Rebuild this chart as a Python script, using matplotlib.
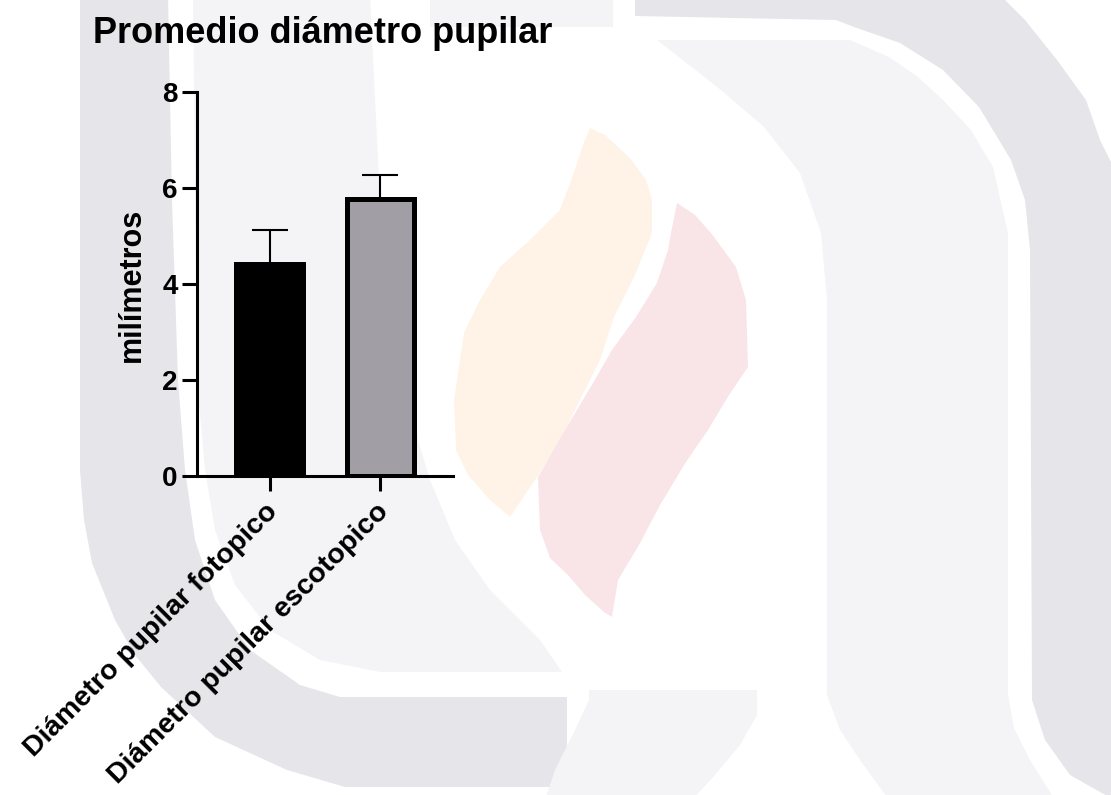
import matplotlib
matplotlib.use("Agg")
import matplotlib.pyplot as plt
from matplotlib.patches import Polygon
from matplotlib.transforms import ScaledTranslation

# Pupil diameter means (mm) with upper SD bars
categories = ["Diámetro pupilar fotopico", "Diámetro pupilar escotopico"]
means = [4.42, 5.78]
errors_up = [0.70, 0.49]
bar_colors = ["#000000", "#a19fa5"]
y_ticks = [0, 2, 4, 6, 8]

W, H = 1111, 795

plt.rcParams["font.family"] = ["Liberation Sans", "DejaVu Sans"]
plt.rcParams["font.weight"] = "bold"


def draw_watermark(fig):
    """Faint institutional logo behind the plot (pixel coordinates)."""
    bg = fig.add_axes([0, 0, 1, 1], zorder=-10)
    bg.set_xlim(0, W)
    bg.set_ylim(H, 0)
    bg.axis("off")

    dark = "#e6e5ea"
    light = "#f4f4f7"
    orange = "#fef3e6"
    pink = "#f9e5e7"

    shapes = [
        # left arch, inner light part
        (light, [(193, -5), (370, -5), (380, 200), (400, 350), (418, 440),
                 (430, 480), (455, 540), (490, 590), (540, 640), (562, 672),
                 (380, 672), (320, 660), (270, 630), (235, 585), (215, 530),
                 (205, 470), (197, 380)]),
        # left arch, outer dark band
        (dark, [(80, -5), (80, 470), (84, 520), (92, 563), (115, 620),
                (135, 655), (161, 687), (215, 737), (287, 770), (345, 787),
                (552, 787), (567, 760), (567, 697), (340, 697), (300, 685),
                (250, 650), (215, 600), (195, 540), (185, 470), (178, 380),
                (172, 200), (168, -5)]),
        # small strips
        (light, [(430, -5), (613, -5), (613, 27), (430, 27)]),
        (light, [(589, 690), (757, 690), (757, 715), (740, 745), (715, 775),
                 (692, 800), (545, 800), (555, 770), (575, 730), (589, 700)]),
        # right arch, outer dark band
        (dark, [(635, -5), (1000, -5), (1025, 20), (1057, 60), (1086, 100),
                (1100, 140), (1115, 170), (1115, 800), (1100, 792),
                (1070, 775), (1045, 740), (1032, 700), (1030, 250),
                (1025, 200), (1011, 160), (979, 107), (943, 70), (900, 43),
                (854, 27), (836, 20), (635, 16)]),
        # right arch, inner light leg
        (light, [(657, 40), (850, 40), (889, 57), (918, 77), (943, 100),
                 (971, 130), (993, 167), (1008, 233), (1008, 695),
                 (1014, 728), (1030, 760), (1055, 800), (889, 800),
                 (860, 760), (840, 730), (827, 695), (827, 300), (821, 233),
                 (800, 173), (764, 127), (721, 90)]),
        # flames
        (orange, [(590, 128), (605, 135), (630, 158), (646, 180), (652, 200),
                  (652, 233), (635, 275), (614, 317), (600, 360), (580, 400),
                  (560, 440), (535, 480), (510, 517), (490, 500), (468, 475),
                  (456, 450), (454, 400), (464, 333), (480, 300), (500, 267),
                  (530, 240), (560, 210), (575, 170), (583, 145)]),
        (pink, [(677, 203), (695, 215), (711, 233), (736, 267), (746, 300),
                (748, 367), (729, 395), (708, 430), (686, 462), (660, 505),
                (639, 545), (618, 580), (612, 617), (604, 612), (585, 595),
                (568, 575), (550, 558), (540, 530), (538, 477), (565, 430),
                (593, 383), (612, 350), (636, 317), (657, 283), (668, 250),
                (671, 233)]),
    ]
    for color, pts in shapes:
        bg.add_patch(Polygon(pts, closed=True, facecolor=color,
                             edgecolor="none"))


fig = plt.figure(figsize=(W / 100, H / 100), dpi=100)
fig.patch.set_facecolor("white")
draw_watermark(fig)

ax = fig.add_axes([197 / W, 1 - 476 / H, (453 - 197) / W, (476 - 92) / H])
ax.set_facecolor("none")

x = list(range(len(categories)))
ax.bar(x, means, width=0.61, color=bar_colors, edgecolor="black",
       linewidth=3.6, zorder=3)
ax.errorbar(x, means, yerr=[[0] * len(errors_up), errors_up], fmt="none",
            ecolor="black", elinewidth=1.5, capsize=13.3, capthick=1.5,
            zorder=2)

ax.set_xlim(-0.66, 1.66)
ax.set_ylim(0, 8)
ax.set_yticks(y_ticks)
ax.set_xticks(x)
ax.set_xticklabels([])

# slanted category names, hung just below each tick
label_offset = ScaledTranslation(-0.05, -0.23, fig.dpi_scale_trans)
for xi, name in zip(x, categories):
    ax.text(xi, 0, name, transform=ax.get_xaxis_transform() + label_offset,
            rotation=45, ha="right", va="top", rotation_mode="anchor",
            fontsize=20.5)

for side in ("top", "right"):
    ax.spines[side].set_visible(False)
for side in ("left", "bottom"):
    ax.spines[side].set_linewidth(2.2)
ax.tick_params(axis="both", length=11, width=2.2, pad=4)
ax.tick_params(axis="y", labelsize=20, pad=3)

fig.text(132 / W, 1 - 285 / H, "milímetros", rotation=90, ha="center",
         va="center", fontsize=22)
fig.text(93 / W, 1 - 43 / H, "Promedio diámetro pupilar", ha="left",
         va="baseline", fontsize=26)

fig.savefig("out.png", dpi=100, facecolor="white")
